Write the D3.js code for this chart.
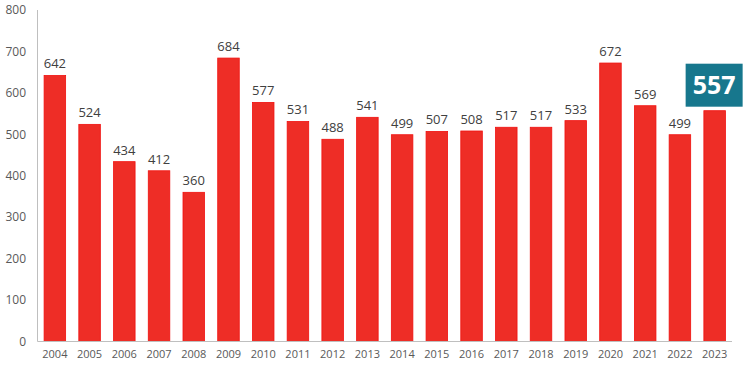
<!DOCTYPE html>
<html><head><meta charset="utf-8">
<script src="https://cdn.jsdelivr.net/npm/d3@7"></script>
<style>body{margin:0;background:#fff}svg{display:block}</style>
</head><body>
<svg id="c" width="746" height="368"></svg>
<script>
const years = ["2004","2005","2006","2007","2008","2009","2010","2011","2012","2013","2014","2015","2016","2017","2018","2019","2020","2021","2022","2023"];
const values = [642,524,434,412,360,684,577,531,488,541,499,507,508,517,517,533,672,569,499,557];
const yTicks = [0,100,200,300,400,500,600,700,800];

(function () {
const svg = d3.select("#c");
const mLeft = 37.5, mRight = 732, mTop = 10, mBottom = 341.5;
const x = d3.scaleBand().domain(years).range([mLeft, mRight]).paddingInner(0.38).paddingOuter(0.19);
const y = d3.scaleLinear().domain([0, 800]).range([mBottom, mTop]);

svg.append("g").selectAll("text").data(yTicks).join("text")
  .attr("x", 26).attr("y", d => y(d)).attr("dy", "0.35em")
  .attr("text-anchor", "end").attr("font-family", "Open Sans, sans-serif")
  .attr("font-size", 12).attr("fill", "#595959").text(d => d);

const last = years.length - 1;
svg.append("g").selectAll("rect").data(values).join("rect")
  .attr("x", (d, i) => x(years[i])).attr("width", x.bandwidth())
  .attr("y", d => y(d)).attr("height", d => y(0) - y(d))
  .attr("fill", "#ee2d26").attr("stroke", "#f0110f").attr("stroke-width", 0.8);

svg.append("g").selectAll("text").data(values).join("text")
  .filter((d, i) => i !== last)
  .attr("x", (d, i) => x(years[i]) + x.bandwidth() / 2).attr("y", d => y(d) - 7)
  .attr("text-anchor", "middle").attr("font-family", "Open Sans, sans-serif")
  .attr("font-size", 13).attr("fill", "#404040").text(d => d);

svg.append("line").attr("x1", mLeft).attr("x2", mLeft).attr("y1", mTop).attr("y2", mBottom)
  .attr("stroke", "#bfbfbf").attr("stroke-width", 1);
svg.append("line").attr("x1", mLeft).attr("x2", mRight).attr("y1", mBottom).attr("y2", mBottom)
  .attr("stroke", "#bfbfbf").attr("stroke-width", 1);

svg.append("g").selectAll("text").data(years).join("text")
  .attr("x", d => x(d) + x.bandwidth() / 2).attr("y", 358)
  .attr("text-anchor", "middle").attr("font-family", "Open Sans, sans-serif")
  .attr("font-size", 11).attr("fill", "#595959").text(d => d);

const lx = x(years[last]) + x.bandwidth() / 2;
const ly = y(values[last]);
svg.append("rect").attr("x", lx - 29).attr("y", ly - 47).attr("width", 57).attr("height", 43)
  .attr("fill", "#17778d");
svg.append("text").attr("x", lx - 0.5).attr("y", ly - 25.5).attr("dy", "0.35em")
  .attr("text-anchor", "middle").attr("font-family", "Open Sans, sans-serif")
  .attr("font-weight", "bold").attr("font-size", 25).attr("fill", "#fff").text(values[last]);
})();
</script>
</body></html>
